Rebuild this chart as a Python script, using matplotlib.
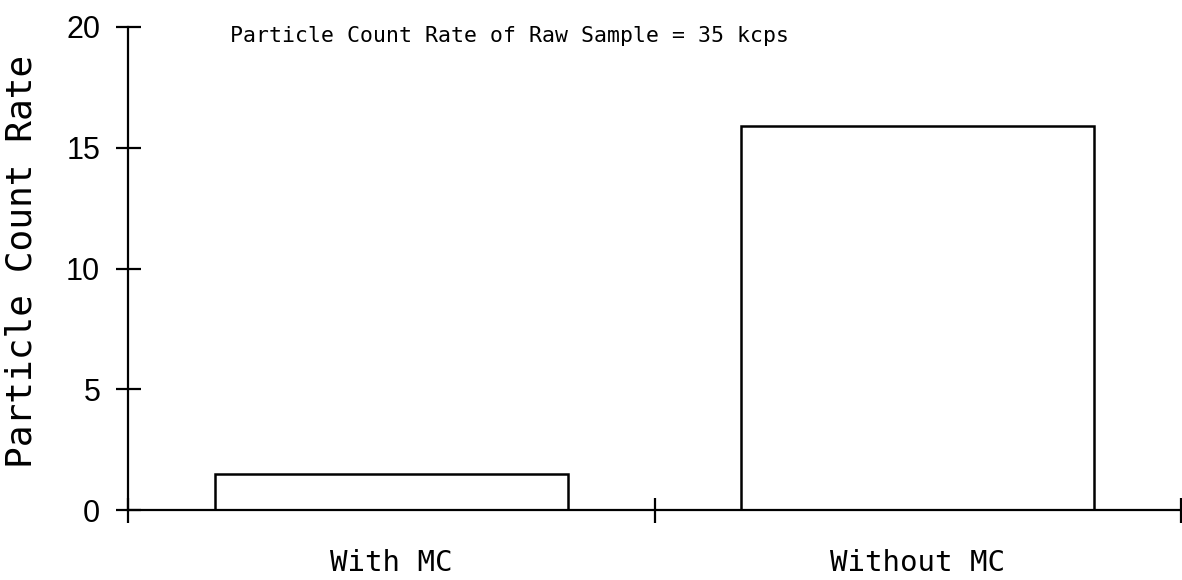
import matplotlib
matplotlib.use("Agg")
import matplotlib.pyplot as plt

# Data
categories = ["With MC", "Without MC"]
count_rates = [1.5, 15.9]          # kcps
y_ticks = [0, 5, 10, 15, 20]
raw_note = "Particle Count Rate of Raw Sample = 35 kcps"
y_label = "Particle Count Rate"

W, H, DPI = 1182, 580, 100
fig = plt.figure(figsize=(W / DPI, H / DPI), dpi=DPI)
ax = fig.add_axes([128 / W, 1 - 510 / H, (1181 - 128) / W, (510 - 27) / H])

x = list(range(len(categories)))
ax.bar(x, count_rates, width=0.67, facecolor="white", edgecolor="black",
       linewidth=1.8, zorder=3)

ax.set_xlim(-0.5, len(categories) - 0.5)
ax.set_ylim(0, 20)

for side in ("top", "right"):
    ax.spines[side].set_visible(False)
for side in ("left", "bottom"):
    ax.spines[side].set_linewidth(1.6)
ax.spines["bottom"].set_zorder(4)

# y axis: crossing ticks
ax.set_yticks(y_ticks)
ax.set_yticklabels([str(v) for v in y_ticks], fontfamily="Liberation Sans",
                   fontsize=22)
ax.tick_params(axis="y", direction="inout", length=18, width=1.6, pad=11)

# x axis: crossing ticks at category boundaries, labels centered
boundaries = [i - 0.5 for i in range(len(categories) + 1)]
ax.set_xticks(boundaries)
ax.set_xticklabels([""] * len(boundaries))
ax.tick_params(axis="x", which="major", direction="inout", length=18, width=1.6)
ax.set_xticks(x, minor=True)
ax.set_xticklabels(categories, minor=True, fontfamily="DejaVu Sans Mono",
                   fontsize=21)
ax.tick_params(axis="x", which="minor", length=0, pad=28)

# note at the top
fig.text(230 / W, 1 - 36 / H, raw_note, fontfamily="DejaVu Sans Mono",
         fontsize=15.5, ha="left", va="center")

# rotated y label
fig.text(22 / W, 1 - 468 / H, y_label, rotation=90,
         fontfamily="DejaVu Sans Mono", fontsize=26,
         ha="center", va="bottom")

fig.savefig("out.png", dpi=DPI)
